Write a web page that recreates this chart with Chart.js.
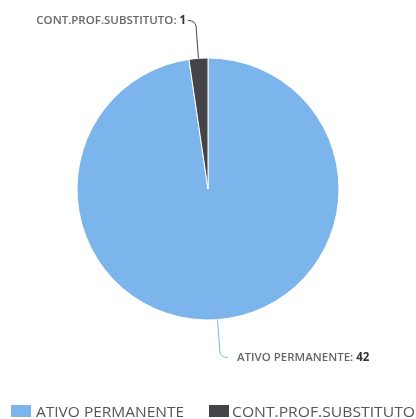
<!DOCTYPE html>
<html>
<head>
<meta charset="utf-8">
<script src="https://cdn.jsdelivr.net/npm/chart.js@4.4.1/dist/chart.umd.min.js"></script>
<style>
  html, body { margin: 0; padding: 0; background: #fff; }
  #wrap { width: 416px; height: 419px; position: relative; }
</style>
</head>
<body>
<div id="wrap"><canvas id="pieChart"></canvas></div>
<script>
// Chart data
const labels = ["ATIVO PERMANENTE", "CONT.PROF.SUBSTITUTO"];
const values = [42, 1];
const colors = ["#7cb5ec", "#434348"];

// Callout labels drawn outside the slices
const calloutPlugin = {
  id: "callouts",
  afterDatasetsDraw(chart) {
    const ctx = chart.ctx;
    const meta = chart.getDatasetMeta(0);
    meta.data.forEach((arc, i) => {
      const p = arc.getProps(["x", "y", "startAngle", "endAngle", "outerRadius"], true);
      const mid = (p.startAngle + p.endAngle) / 2;
      const dx = Math.cos(mid);
      const dy = Math.sin(mid);
      const x0 = p.x + dx * p.outerRadius;
      const y0 = p.y + dy * p.outerRadius;
      const x1 = p.x + dx * (p.outerRadius + 32);
      const y1 = p.y + dy * (p.outerRadius + 32);
      const ly = p.y + dy * (p.outerRadius + 38);
      const right = dx >= 0;
      const lx = x1 + (right ? 8 : -8);

      ctx.save();
      ctx.strokeStyle = colors[i];
      ctx.lineWidth = 1;
      ctx.beginPath();
      ctx.moveTo(x0, y0);
      ctx.lineTo(x1, y1);
      ctx.quadraticCurveTo(x1 + (right ? 1 : -1), ly, lx, ly);
      ctx.stroke();

      const name = labels[i] + ": ";
      const val = String(values[i]);
      ctx.textBaseline = "middle";
      ctx.font = "600 11.5px 'Open Sans'";
      const nameW = ctx.measureText(name).width;
      ctx.font = "bold 11.5px 'Open Sans'";
      const valW = ctx.measureText(val).width;
      const tx = right ? lx + 9 : lx - 2 - nameW - valW;
      ctx.font = "600 11.5px 'Open Sans'";
      ctx.fillStyle = "#666666";
      ctx.textAlign = "left";
      ctx.fillText(name, tx, ly);
      ctx.font = "bold 11.5px 'Open Sans'";
      ctx.fillStyle = "#333333";
      ctx.fillText(val, tx + nameW, ly);
      ctx.restore();
    });
  }
};

// Bottom legend (wider than the canvas allows for the built-in one)
const legendItems = [
  { box: 11, text: 36, width: 148 },
  { box: 209, text: 232, width: 183 },
];
const bottomLegend = {
  id: "bottomLegend",
  afterDraw(chart) {
    const ctx = chart.ctx;
    ctx.save();
    ctx.font = "15px 'Open Sans'";
    ctx.textBaseline = "alphabetic";
    ctx.textAlign = "left";
    labels.forEach((label, i) => {
      const item = legendItems[i];
      ctx.fillStyle = colors[i];
      ctx.fillRect(item.box, 405, 20, 12);
      ctx.fillStyle = "#555555";
      const w = ctx.measureText(label).width;
      ctx.save();
      ctx.translate(item.text, 417);
      ctx.scale(item.width / w, 1);
      ctx.fillText(label, 0, 0);
      ctx.restore();
    });
    ctx.restore();
  }
};

const pieCtx = document.getElementById("pieChart").getContext("2d");
const pieChart = new Chart(pieCtx, {
  type: "pie",
  data: {
    labels: labels,
    datasets: [
      {
        data: values,
        backgroundColor: colors,
        borderColor: "#ffffff",
        borderWidth: 1,
        radius: 131,
      },
    ],
  },
  options: {
    responsive: true,
    maintainAspectRatio: false,
    animation: false,
    layout: { padding: { top: 0, bottom: 41 } },
    plugins: {
      legend: { display: false },
      tooltip: { enabled: false },
    },
  },
  plugins: [calloutPlugin, bottomLegend],
});
</script>
</body>
</html>
